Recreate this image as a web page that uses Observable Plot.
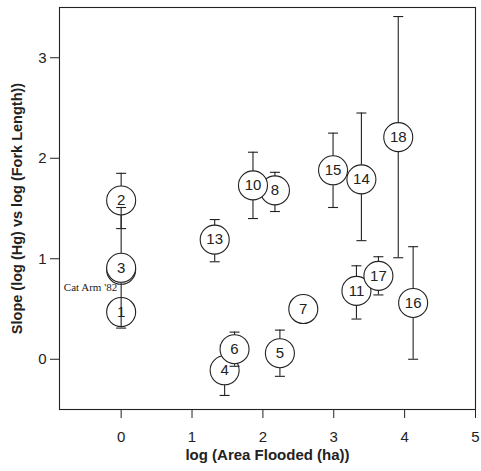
<!DOCTYPE html>
<html>
<head>
<meta charset="utf-8">
<script src="https://cdn.jsdelivr.net/npm/d3@7"></script>
<script src="https://cdn.jsdelivr.net/npm/@observablehq/plot@0.6"></script>
<style>
  html, body { margin: 0; padding: 0; background: #fff; }
</style>
</head>
<body>
<div id="chart"></div>
<script>
// Reservoir sites: log area flooded vs. slope of log(Hg) on log(fork length), with error bars
const siteIds   = [1, 2, 3, 4, 5, 6, 7, 8, 10, 11, 13, 14, 15, 16, 17, 18];
const logArea   = [0, 0, 0, 1.46, 2.24, 1.60, 2.57, 2.17, 1.86, 3.32, 1.32, 3.39, 2.99, 4.12, 3.63, 3.91];
const slope     = [0.47, 1.58, 0.91, -0.11, 0.06, 0.10, 0.50, 1.68, 1.73, 0.68, 1.19, 1.79, 1.88, 0.56, 0.83, 2.21];
const slopeLow  = [null, 1.30, 0.31, -0.36, -0.17, -0.07, null, 1.47, 1.40, 0.40, 0.97, 1.18, 1.51, 0.00, 0.64, 1.01];
const slopeHigh = [null, 1.85, 1.51, 0.14, 0.29, 0.27, null, 1.86, 2.06, 0.93, 1.39, 2.45, 2.25, 1.12, 1.02, 3.41];

// Unnumbered Cat Arm 1982 sample, sitting just under site 3
const catArm = [{name: "Cat Arm '82", x: 0, y: 0.89, labelY: 0.71}];

const xTicks = [0, 1, 2, 3, 4, 5];
const yTicks = [0, 1, 2, 3];
const xTitle = "log (Area Flooded (ha))";
const yTitle = "Slope (log (Hg) vs log (Fork Length))";

const sites = siteIds.map((id, i) => ({
  id, x: logArea[i], y: slope[i], lo: slopeLow[i], hi: slopeHigh[i]
}));

const ink = "#222";
const circleR = 14.5;

// horizontal bar used as the error-bar cap
const capSymbol = {
  draw(context, size) {
    const w = Math.sqrt(size / Math.PI);
    context.moveTo(-w, 0);
    context.lineTo(w, 0);
  }
};

const marks = [
  Plot.frame({stroke: ink, strokeWidth: 1.1}),
  Plot.axisX({ticks: xTicks, tickFormat: d3.format("d"), tickSize: 9, tickPadding: 13, fontSize: 15,
    label: null, stroke: ink, fill: ink}),
  Plot.axisY({ticks: yTicks, tickFormat: d3.format("d"), tickSize: 9, tickPadding: 4, fontSize: 15,
    label: null, stroke: ink, fill: ink}),
  Plot.text([xTitle], {frameAnchor: "bottom", dy: 46, lineAnchor: "middle", textAnchor: "middle",
    text: d => d, fontWeight: "bold", fontSize: 15, fill: ink}),
  Plot.text([yTitle], {frameAnchor: "left", dx: -42, rotate: -90, lineAnchor: "middle", textAnchor: "middle",
    text: d => d, fontWeight: "bold", fontSize: 14.5, fill: ink}),
  // Cat Arm '82 circle and its label
  Plot.dot(catArm, {x: "x", y: "y", r: circleR, fill: "white", stroke: ink, strokeWidth: 1.1}),
  Plot.text(catArm, {x: "x", y: "labelY", text: "name", textAnchor: "end", dx: -4,
    fontFamily: "'Liberation Serif', 'Times New Roman', serif", fontSize: 11, fill: ink})
];

// each site drawn in turn: error bar, caps, circle, number
for (const d of sites) {
  if (d.lo != null) {
    marks.push(Plot.ruleX([d], {x: "x", y1: "lo", y2: "hi", stroke: ink, strokeWidth: 1.1}));
    marks.push(Plot.dot([d], {x: "x", y: "lo", symbol: capSymbol, r: 5, fill: "none", stroke: ink, strokeWidth: 1.1}));
    marks.push(Plot.dot([d], {x: "x", y: "hi", symbol: capSymbol, r: 5, fill: "none", stroke: ink, strokeWidth: 1.1}));
  }
  marks.push(Plot.dot([d], {x: "x", y: "y", r: circleR, fill: "white", stroke: ink, strokeWidth: 1.1}));
  marks.push(Plot.text([d], {x: "x", y: "y", text: "id", fontSize: 15, fill: ink}));
}

const chart = Plot.plot({
  width: 481,
  height: 471,
  marginLeft: 59,
  marginRight: 6,
  marginTop: 7,
  marginBottom: 62,
  style: {fontFamily: "'Liberation Sans', Arial, sans-serif", fontSize: "15px", background: "white", color: ink},
  x: {domain: [-0.87, 5]},
  y: {domain: [-0.5, 3.5]},
  marks
});

document.getElementById("chart").appendChild(chart);
</script>
</body>
</html>
